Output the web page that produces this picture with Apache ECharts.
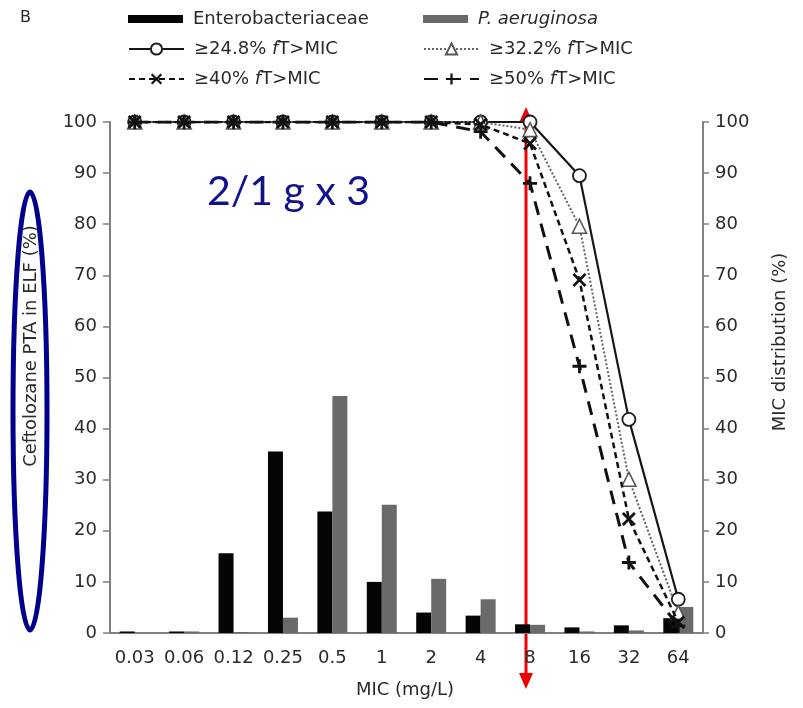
<!DOCTYPE html>
<html>
<head>
<meta charset="utf-8">
<script src="https://cdn.jsdelivr.net/npm/echarts@6/dist/echarts.min.js"></script>
<style>
  html, body { margin: 0; padding: 0; background: #fff; }
  #chart { width: 803px; height: 708px; }
</style>
</head>
<body>
<div id="chart"></div>
<script>
// MIC categories (mg/L)
const categories = ['0.03', '0.06', '0.12', '0.25', '0.5', '1', '2', '4', '8', '16', '32', '64'];

// MIC distribution (%) per organism group
const enterobacteriaceae = [0.3, 0.3, 15.6, 35.5, 23.8, 10.0, 4.0, 3.4, 1.7, 1.1, 1.5, 2.9];
const pAeruginosa        = [0, 0.3, 0.2, 3.0, 46.4, 25.1, 10.6, 6.6, 1.6, 0.3, 0.5, 5.1];

// Ceftolozane PTA in ELF (%) for each fT>MIC target
const pta248 = [100, 100, 100, 100, 100, 100, 100, 100, 100, 89.5, 41.8, 6.6];
const pta322 = [100, 100, 100, 100, 100, 100, 100, 100, 98.5, 79.6, 30.1, 4.0];
const pta40  = [100, 100, 100, 100, 100, 100, 100, 99.5, 95.8, 69.1, 22.3, 2.1];
const pta50  = [100, 100, 100, 100, 100, 100, 100, 98.1, 88.0, 52.2, 13.8, 1.4];

// Axis ticks
const yTicks = { min: 0, max: 100, interval: 10 };

const FONT = 'DejaVu Sans';
const TXT = '#2a2a2a';
const AXIS = '#808080';

const crossPath = 'path://M0,1.4L1.4,0L5,3.6L8.6,0L10,1.4L6.4,5L10,8.6L8.6,10L5,6.4L1.4,10L0,8.6L3.6,5Z';
const plusPath = 'path://M4,0H6V4H10V6H6V10H4V6H0V4H4Z';

const chart = echarts.init(document.getElementById('chart'), null, { renderer: 'canvas' });

function legendAt(name, left, top, opts) {
  return Object.assign({
    data: [name],
    left: left,
    top: top,
    itemWidth: 55,
    itemHeight: 14,
    padding: 0,
    selectedMode: false,
    formatter: function (n) {
      if (n === 'P. aeruginosa') return '{i|P. aeruginosa}';
      return n.replace(' fT', ' {i|f}T');
    },
    textStyle: {
      fontFamily: FONT,
      fontSize: 18,
      color: TXT,
      padding: [0, 0, 0, 5],
      rich: {
        i: { fontFamily: FONT, fontSize: 18, color: TXT, fontStyle: 'italic' }
      }
    }
  }, opts || {});
}

const lineBase = {
  type: 'line',
  yAxisIndex: 0,
  showAllSymbol: true,
  animation: false,
  z: 5
};

const option = {
  animation: false,
  backgroundColor: '#fff',
  grid: { left: 110, right: 100, top: 122, bottom: 75, containLabel: false },
  legend: [
    legendAt('Enterobacteriaceae', 128, 10, { itemHeight: 8, icon: 'rect' }),
    legendAt('P. aeruginosa', 423, 10, { itemHeight: 8, icon: 'rect', itemWidth: 45 }),
    legendAt('≥24.8% fT>MIC', 128, 40),
    legendAt('≥32.2% fT>MIC', 423, 40),
    legendAt('≥40% fT>MIC', 128, 70),
    legendAt('≥50% fT>MIC', 423, 70)
  ],
  xAxis: {
    type: 'category',
    data: categories,
    boundaryGap: true,
    axisLine: { lineStyle: { color: AXIS, width: 2 } },
    axisTick: { interval: 0, length: 6, lineStyle: { color: AXIS, width: 1.5 } },
    axisLabel: { interval: 0, margin: 16, fontFamily: FONT, fontSize: 18, color: TXT },
    splitLine: { show: false }
  },
  yAxis: [
    {
      type: 'value', position: 'left',
      min: yTicks.min, max: yTicks.max, interval: yTicks.interval,
      axisLine: { show: true, lineStyle: { color: AXIS, width: 2 } },
      axisTick: { show: true, length: 7, lineStyle: { color: AXIS, width: 1.5 } },
      axisLabel: { margin: 13, fontFamily: FONT, fontSize: 18, color: TXT },
      splitLine: { show: false }
    },
    {
      type: 'value', position: 'right',
      min: yTicks.min, max: yTicks.max, interval: yTicks.interval,
      axisLine: { show: true, lineStyle: { color: AXIS, width: 2 } },
      axisTick: { show: true, length: 6, lineStyle: { color: AXIS, width: 1.5 } },
      axisLabel: { margin: 12, fontFamily: FONT, fontSize: 18, color: TXT },
      splitLine: { show: false }
    }
  ],
  series: [
    {
      name: 'Enterobacteriaceae', type: 'bar', yAxisIndex: 1,
      data: enterobacteriaceae, barWidth: 15, barGap: '0%',
      itemStyle: { color: '#050505' }, z: 2
    },
    {
      name: 'P. aeruginosa', type: 'bar', yAxisIndex: 1,
      data: pAeruginosa, barWidth: 15, barGap: '0%',
      itemStyle: { color: '#6a6a6a' }, z: 2
    },
    Object.assign({}, lineBase, {
      name: '≥24.8% fT>MIC', data: pta248,
      symbol: 'circle', symbolSize: 13,
      lineStyle: { color: '#161616', width: 2.2, type: 'solid' },
      itemStyle: { color: '#fff', borderColor: '#1e1e1e', borderWidth: 1.8 }
    }),
    Object.assign({}, lineBase, {
      name: '≥32.2% fT>MIC', data: pta322,
      symbol: 'triangle', symbolSize: 14,
      lineStyle: { color: '#666', width: 2, type: 'dotted' },
      itemStyle: { color: '#fff', borderColor: '#555', borderWidth: 1.6 }
    }),
    Object.assign({}, lineBase, {
      name: '≥40% fT>MIC', data: pta40,
      symbol: crossPath, symbolSize: 14,
      lineStyle: { color: '#111', width: 2.5, type: [6, 4] },
      itemStyle: { color: '#111' }, z: 6
    }),
    Object.assign({}, lineBase, {
      name: '≥50% fT>MIC', data: pta50,
      symbol: plusPath, symbolSize: 14,
      lineStyle: { color: '#111', width: 3, type: [14, 9] },
      itemStyle: { color: '#111' }, z: 6
    })
  ],
  graphic: [
    // panel letter
    { type: 'text', left: 20, top: 10, style: { text: 'B', font: '16px ' + FONT, fill: TXT } },
    // axis titles
    {
      type: 'text', x: 31, y: 346, rotation: Math.PI / 2,
      style: { text: 'Ceftolozane PTA in ELF (%)', font: '18px ' + FONT, fill: TXT, align: 'center', verticalAlign: 'middle' }
    },
    {
      type: 'text', x: 780, y: 342, rotation: Math.PI / 2,
      style: { text: 'MIC distribution (%)', font: '18px ' + FONT, fill: TXT, align: 'center', verticalAlign: 'middle' }
    },
    {
      type: 'text', x: 405, y: 690,
      style: { text: 'MIC (mg/L)', font: '18px ' + FONT, fill: TXT, align: 'center', verticalAlign: 'middle' }
    },
    // dosing regimen
    {
      type: 'text', x: 207, y: 192,
      style: { text: '2/1 g x 3', font: '41px Lato', fill: '#12128f', align: 'left', verticalAlign: 'middle' }
    },
    // highlight ring around the left axis title
    {
      type: 'ellipse', z: 20,
      shape: { cx: 30, cy: 411, rx: 17, ry: 219 },
      style: { fill: 'none', stroke: '#00008c', lineWidth: 5 }
    },
    // breakpoint marker arrow
    {
      type: 'group', z: 30,
      children: [
        { type: 'line', shape: { x1: 526, y1: 118, x2: 526, y2: 678 }, style: { stroke: '#ee0000', lineWidth: 3 } },
        { type: 'polygon', shape: { points: [[526, 107], [519, 123], [533, 123]] }, style: { fill: '#ee0000' } },
        { type: 'polygon', shape: { points: [[526, 689], [519, 673], [533, 673]] }, style: { fill: '#ee0000' } }
      ]
    }
  ]
};

chart.setOption(option);
</script>
</body>
</html>
